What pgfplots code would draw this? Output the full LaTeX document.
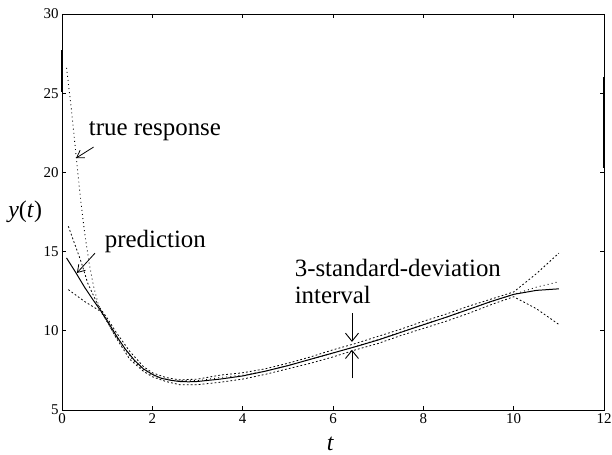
\documentclass[border=0pt]{standalone}
\usepackage{fontspec}
\setmainfont{Liberation Serif}
\usepackage{pgfplots}
\pgfplotsset{compat=1.18}
\usetikzlibrary{arrows.meta}
\begin{document}
\begin{tikzpicture}[x=1bp,y=1bp]
\useasboundingbox (-62,-45) rectangle (550,410);
\begin{axis}[at={(0,0)}, anchor=south west, scale only axis,
  width=542bp, height=396bp,
  xmin=0, xmax=12, ymin=5, ymax=30,
  xtick={0,2,...,12}, ytick={5,10,...,30},
  tick align=inside, major tick length=4bp,
  axis line style={line width=0.9pt},
  every tick/.style={black, line width=0.6pt},
  ticklabel style={font=\fontsize{15}{15}\selectfont},
  xticklabel style={inner xsep=0pt},
  /pgf/number format/assume math mode=true,
  xlabel={\fontsize{24}{24}\selectfont\itshape t},
  ylabel={\fontsize{24}{24}\selectfont\itshape y\/\upshape(\itshape t\/\upshape)},
  every axis x label/.style={at={(axis description cs:0.495,-0.1035)}, anchor=base, inner sep=0pt},
  every axis y label/.style={at={(axis description cs:-0.068,0.5)}, anchor=center},
  clip=false,
]
% true response
\addplot[black, line width=0.9pt, dash pattern=on 0.9pt off 3.2pt] coordinates {
(0.1,26.6)(0.2,24.2)(0.3,21.4)(0.4,18.6)(0.5,16.2)(0.6,14.3)(0.7,12.8)(0.8,11.7)(0.9,11.0)(1.0,10.55)
(1.2,9.6)(1.4,8.8)(1.6,8.05)(1.8,7.55)(2.0,7.2)(2.2,7.0)(2.5,6.85)(3.0,6.85)(3.5,7.05)(4.0,7.2)
(4.5,7.45)(5.0,7.8)(5.5,8.2)(6.0,8.6)(6.5,9.0)(7.0,9.45)(7.5,9.92)(8.0,10.4)(8.5,10.85)(9.0,11.35)
(9.5,11.85)(10.0,12.3)(10.5,12.75)(11.0,13.1)};
% upper bound
\addplot[black, line width=0.8pt, dash pattern=on 1.8pt off 2.2pt] coordinates {
(0.14,16.6)(0.43,14.3)(0.57,13.0)(0.8,11.6)(1.0,10.8)(1.2,9.9)(1.5,8.7)(1.8,7.75)(2.0,7.35)(2.3,7.05)
(2.6,6.9)(3.0,6.95)(3.5,7.2)(4.0,7.35)(4.5,7.6)(5.0,7.95)(5.5,8.35)(6.0,8.8)(6.5,9.2)(7.0,9.65)
(7.5,10.1)(8.0,10.6)(8.5,11.05)(9.0,11.55)(9.5,12.0)(10.0,12.45)(10.5,13.6)(11.0,14.9)};
% lower bound
\addplot[black, line width=0.8pt, dash pattern=on 1.8pt off 2.2pt] coordinates {
(0.14,12.6)(0.5,11.85)(0.87,11.2)(1.0,10.6)(1.2,9.55)(1.5,8.2)(1.8,7.45)(2.0,7.1)(2.3,6.8)(2.6,6.6)
(3.0,6.6)(3.5,6.75)(4.0,6.95)(4.5,7.25)(5.0,7.6)(5.5,7.95)(6.0,8.35)(6.5,8.8)(7.0,9.2)(7.5,9.7)
(8.0,10.15)(8.5,10.6)(9.0,11.1)(9.5,11.65)(10.0,12.15)(10.5,11.4)(11.0,10.4)};
% prediction
\addplot[black, line width=1pt] coordinates {
(0.1,14.6)(0.3,13.7)(0.5,12.75)(0.7,11.9)(0.85,11.3)(1.0,10.65)(1.2,9.7)(1.4,8.85)(1.6,8.15)(1.8,7.6)
(2.0,7.25)(2.2,7.0)(2.4,6.88)(2.6,6.8)(2.8,6.78)(3.0,6.8)(3.5,6.95)(4.0,7.15)(4.5,7.45)(5.0,7.8)
(5.5,8.2)(6.0,8.6)(6.5,9.0)(7.0,9.42)(7.5,9.9)(8.0,10.38)(8.5,10.85)(9.0,11.35)(9.5,11.85)(10.0,12.3)
(10.5,12.55)(11.0,12.65)};
% scan artefacts on the frame
\draw[line width=2pt] (axis cs:0,25.1) -- (axis cs:0,27.7);
\draw[line width=1.6pt] (axis cs:12,20.3) -- (axis cs:12,26.0);
% annotations
\node[anchor=base west, inner sep=0pt, font=\fontsize{25}{26}\selectfont] at (axis cs:0.59,22.36) {true response};
\node[anchor=base west, inner sep=0pt, font=\fontsize{25}{26}\selectfont] at (axis cs:0.945,15.29) {prediction};
\node[anchor=base west, inner sep=0pt, font=\fontsize{25}{26}\selectfont] at (axis cs:5.15,13.4) {3-standard-deviation};
\node[anchor=base west, inner sep=0pt, font=\fontsize{25}{26}\selectfont] at (axis cs:5.15,11.75) {interval};
\draw[line width=0.8pt, -{Straight Barb[length=7bp,width=9bp]}] (axis cs:0.70,21.6) -- (axis cs:0.31,20.9);
\draw[line width=0.8pt, -{Straight Barb[length=7bp,width=9bp]}] (axis cs:0.73,14.9) -- (axis cs:0.33,13.65);
\draw[line width=0.9pt, -{Straight Barb[length=8bp,width=13bp]}] (axis cs:6.42,11.1) -- (axis cs:6.42,9.3);
\draw[line width=0.9pt, -{Straight Barb[length=8bp,width=13bp]}] (axis cs:6.42,7.0) -- (axis cs:6.42,8.8);
\end{axis}
\end{tikzpicture}
\end{document}
